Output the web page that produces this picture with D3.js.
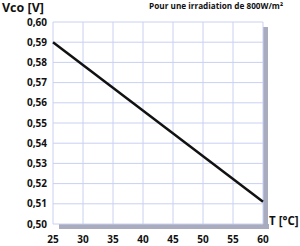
<!DOCTYPE html>
<html>
<head>
<meta charset="utf-8">
<script src="https://cdn.jsdelivr.net/npm/d3@7"></script>
<style>
  body { margin: 0; background: #fff; }
  svg { display: block; font-family: "Open Sans", "DejaVu Sans", sans-serif; }
</style>
</head>
<body>
<svg id="chart"></svg>
<script>
const temps = [25, 60];
const vco = [0.590, 0.511];
const xTicks = [25, 30, 35, 40, 45, 50, 55, 60];
const yTicks = [0.50, 0.51, 0.52, 0.53, 0.54, 0.55, 0.56, 0.57, 0.58, 0.59, 0.60];

const width = 300, height = 246;
const margin = { top: 22, right: 37, bottom: 22, left: 53 };

const svg = d3.select('#chart')
  .attr('width', width)
  .attr('height', height);

const x = d3.scaleLinear().domain([25, 60]).range([margin.left, width - margin.right]);
const y = d3.scaleLinear().domain([0.50, 0.60]).range([height - margin.bottom, margin.top]);

const fmt = d => d.toFixed(2).replace('.', ',');

// shadow
svg.append('rect')
  .attr('x', x(60)).attr('y', y(0.60) + 5)
  .attr('width', 5).attr('height', y(0.50) - y(0.60))
  .attr('fill', '#a9acbf');
svg.append('rect')
  .attr('x', x(25) + 6).attr('y', y(0.50))
  .attr('width', x(60) - x(25)).attr('height', 5)
  .attr('fill', '#a9acbf');

// grid
svg.append('g')
  .selectAll('line')
  .data(yTicks)
  .enter().append('line')
  .attr('x1', x(25)).attr('x2', x(60))
  .attr('y1', d => y(d)).attr('y2', d => y(d))
  .attr('stroke', '#c9d0f2').attr('stroke-width', 1);

svg.append('g')
  .selectAll('line')
  .data(xTicks)
  .enter().append('line')
  .attr('x1', d => x(d)).attr('x2', d => x(d))
  .attr('y1', y(0.50)).attr('y2', y(0.60))
  .attr('stroke', '#c9d0f2').attr('stroke-width', 1);

// axes labels
svg.append('g')
  .selectAll('text')
  .data(yTicks)
  .enter().append('text')
  .attr('x', x(25) - 6)
  .attr('y', d => y(d))
  .attr('dy', '0.35em')
  .attr('text-anchor', 'end')
  .attr('font-size', 10)
  .attr('font-weight', 'bold')
  .attr('fill', '#111')
  .text(fmt);

svg.append('g')
  .selectAll('text')
  .data(xTicks)
  .enter().append('text')
  .attr('x', d => x(d))
  .attr('y', height - 3)
  .attr('text-anchor', 'middle')
  .attr('font-size', 10)
  .attr('font-weight', 'bold')
  .attr('fill', '#111')
  .text(d => d);

// line
const line = d3.line().x((d, i) => x(temps[i])).y(d => y(d));
svg.append('path')
  .datum(vco)
  .attr('d', line)
  .attr('fill', 'none')
  .attr('stroke', '#111')
  .attr('stroke-width', 2.5);

// titles
svg.append('text')
  .attr('x', 2).attr('y', 12)
  .attr('font-size', 12.5).attr('font-weight', 'bold').attr('fill', '#111')
  .text('Vco [V]');

svg.append('text')
  .attr('x', 283).attr('y', 9)
  .attr('text-anchor', 'end')
  .attr('font-size', 8.2).attr('font-weight', 'bold').attr('fill', '#111')
  .text('Pour une irradiation de 800W/m²');

svg.append('text')
  .attr('x', 269).attr('y', 225)
  .attr('font-size', 11.5).attr('font-weight', 'bold').attr('fill', '#111')
  .text('T [°C]');
</script>
</body>
</html>
